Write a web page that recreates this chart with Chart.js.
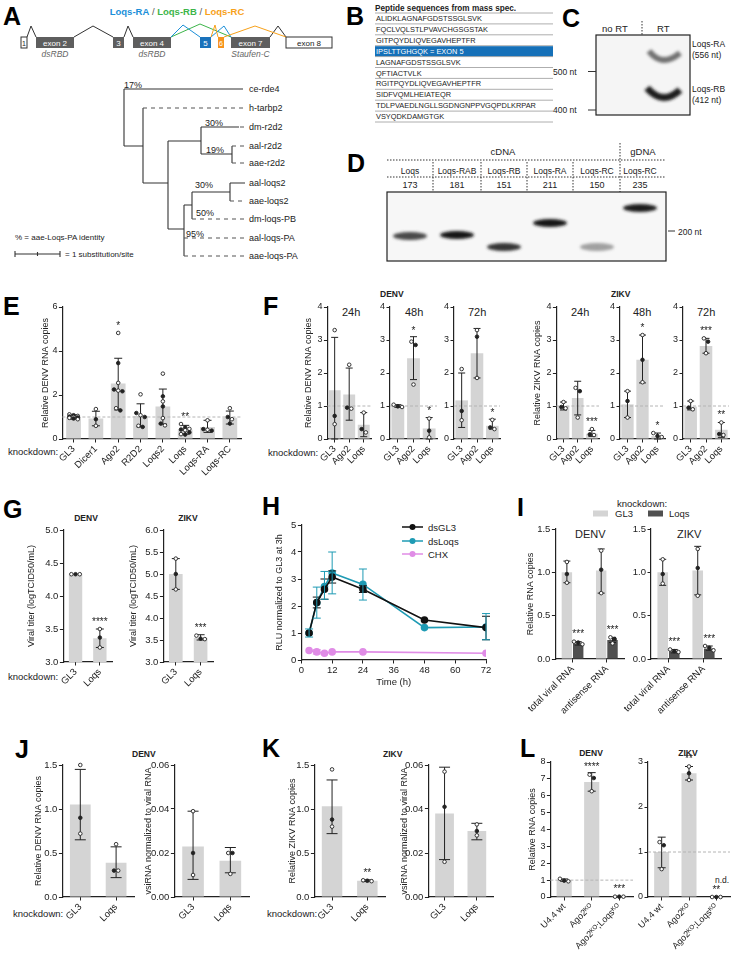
<!DOCTYPE html>
<html>
<head>
<meta charset="utf-8">
<title>Loqs figure</title>
<script src="https://cdn.jsdelivr.net/npm/chart.js@4.4.1/dist/chart.umd.min.js"></script>
<style>
html, body { margin: 0; padding: 0; background: #fff; }
#fig { position: relative; width: 732px; height: 960px; overflow: hidden; }
#fig canvas { position: absolute; }
#art { position: absolute; left: 0; top: 0; }
</style>
</head>
<body>
<div id="fig">
<svg id="art" width="732" height="960" font-family="'Liberation Sans', Arial, sans-serif" fill="#222">
<defs>
  <filter id="soft" x="-30%" y="-150%" width="160%" height="400%"><feGaussianBlur stdDeviation="1.4"/></filter>
</defs>
<g font-size="25" font-weight="bold" fill="#000">
  <text x="3" y="25">A</text>
  <text x="346" y="25">B</text>
  <text x="562" y="27">C</text>
  <text x="347" y="172">D</text>
  <text x="3" y="315">E</text>
  <text x="263" y="315">F</text>
  <text x="3" y="518">G</text>
  <text x="262" y="515">H</text>
  <text x="517" y="516">I</text>
  <text x="15" y="758">J</text>
  <text x="262" y="757">K</text>
  <text x="520" y="757">L</text>
</g>

<!-- A: gene model -->
<text x="177" y="15" text-anchor="middle" font-size="9.5" font-weight="bold"><tspan fill="#1b8fd9">Loqs-RA</tspan><tspan fill="#555" font-weight="normal"> / </tspan><tspan fill="#3db54a">Loqs-RB</tspan><tspan fill="#555" font-weight="normal"> / </tspan><tspan fill="#f7a11a">Loqs-RC</tspan></text>
<g fill="none" stroke-width="1">
  <polyline points="27,37 31,26 36,37" stroke="#333"/>
  <polyline points="74,37 93,26 113,37" stroke="#333"/>
  <polyline points="124,37 128,26 133,37" stroke="#333"/>
  <polyline points="270,37 278,26 286,37" stroke="#333"/>
  <polyline points="171,37 200,24 231,37" stroke="#3db54a"/>
  <polyline points="171,37 183,25 200,37" stroke="#1b8fd9"/>
  <polyline points="211,37 224,26 231,37" stroke="#1b8fd9"/>
  <polyline points="211,37 215,25 218,37" stroke="#f7a11a"/>
  <polyline points="224,37 255,26 286,37" stroke="#f7a11a"/>
</g>
<g font-size="8" text-anchor="middle">
  <rect x="21" y="37" width="6" height="11" fill="#fff" stroke="#333"/>
  <text x="24" y="45.5" font-size="7">1</text>
  <rect x="36" y="37" width="38" height="11" fill="#5e5e5e"/>
  <text x="55" y="45.5" fill="#fff">exon 2</text>
  <rect x="113" y="37" width="11" height="11" fill="#5e5e5e"/>
  <text x="118.5" y="45.5" fill="#fff">3</text>
  <rect x="133" y="37" width="38" height="11" fill="#5e5e5e"/>
  <text x="152" y="45.5" fill="#fff">exon 4</text>
  <rect x="200" y="37" width="11" height="11" fill="#1a72bb"/>
  <text x="205.5" y="45.5" fill="#fff">5</text>
  <rect x="218" y="37" width="6" height="11" fill="#f7941d"/>
  <text x="221" y="45.5" fill="#fff" font-size="7">6</text>
  <rect x="231" y="37" width="39" height="11" fill="#5e5e5e"/>
  <text x="250.5" y="45.5" fill="#fff">exon 7</text>
  <rect x="286" y="37" width="46" height="11" fill="#fff" stroke="#333"/>
  <text x="309" y="45.5">exon 8</text>
  <g font-style="italic" fill="#666" font-size="8.5">
    <text x="55" y="57">dsRBD</text>
    <text x="152" y="57">dsRBD</text>
    <text x="250.5" y="57">Staufen-C</text>
  </g>
</g>

<!-- A: tree -->
<g fill="none" stroke="#333" stroke-width="1.1">
  <path d="M124,89 H243 M124,89 V146 M124,146 H143 M143,108 V183 M143,183 H168 M168,141 V229 M168,141 H201 M201,127 V154 M201,127 H239 M201,154 H232 M232,146 V163 M168,229 H184 M184,205 V256 M184,205 H192 M192,192 V219 M192,192 H230 M230,183 V201 M230,183 H245"/>
  <path stroke="#555" stroke-dasharray="4,4" d="M143,108 H245 M240,127 H245 M232,146 H245 M232,163 H245 M230,201 H245 M192,219 H245 M184,238 H245 M184,256 H245"/>
  <path d="M15,254 H60 M15,251 V257 M37.5,252 V256 M60,251 V257"/>
</g>
<g font-size="9">
  <text x="249" y="92">ce-rde4</text>
  <text x="249" y="111">h-tarbp2</text>
  <text x="249" y="130">dm-r2d2</text>
  <text x="249" y="149">aal-r2d2</text>
  <text x="249" y="166">aae-r2d2</text>
  <text x="249" y="186">aal-loqs2</text>
  <text x="249" y="204">aae-loqs2</text>
  <text x="249" y="222">dm-loqs-PB</text>
  <text x="249" y="241">aal-loqs-PA</text>
  <text x="249" y="259">aae-loqs-PA</text>
  <text x="124" y="87.5">17%</text>
  <text x="205" y="125.5">30%</text>
  <text x="206" y="153">19%</text>
  <text x="195" y="187.5">30%</text>
  <text x="196" y="216">50%</text>
  <text x="186" y="237">95%</text>
  <text x="15" y="240" font-size="8">% = aae-Loqs-PA identity</text>
  <text x="65" y="257" font-size="8">= 1 substitution/site</text>
</g>

<!-- C: gel -->
<g font-size="9.5">
  <text x="602" y="32">no RT</text>
  <text x="657" y="32">RT</text>
  <line x1="642" y1="21" x2="642" y2="35" stroke="#333" stroke-dasharray="1.5,1.5"/>
  <rect x="596" y="35" width="94" height="80" fill="#f5f5f5" stroke="#222" stroke-width="1.2"/>
  <path d="M649,51 Q662,68 680,53" stroke="#5a5a5a" stroke-width="6" fill="none" filter="url(#soft)" opacity="0.85"/>
  <path d="M647,88 Q663,106 680,90" stroke="#1c1c1c" stroke-width="7" fill="none" filter="url(#soft)"/>
  <text x="553" y="75" font-size="8.5">500 nt</text>
  <line x1="588" y1="71.5" x2="596" y2="71.5" stroke="#333"/>
  <text x="553" y="113" font-size="8.5">400 nt</text>
  <line x1="588" y1="110" x2="596" y2="110" stroke="#333"/>
  <g font-size="8.5">
    <text x="692" y="47">Loqs-RA</text>
    <text x="692" y="58">(556 nt)</text>
    <text x="692" y="92">Loqs-RB</text>
    <text x="692" y="103">(412 nt)</text>
  </g>
</g>

<!-- D: gel frame -->
<g font-size="9.5" text-anchor="middle">
  <text x="503" y="155">cDNA</text>
  <text x="643" y="155">gDNA</text>
  <g stroke="#333" stroke-dasharray="1.5,1.5">
    <line x1="387" y1="160" x2="665" y2="160"/>
    <line x1="387" y1="177" x2="665" y2="177"/>
    <line x1="620" y1="143" x2="620" y2="192"/>
    <line x1="433" y1="162" x2="433" y2="192"/>
    <line x1="481" y1="162" x2="481" y2="192"/>
    <line x1="527" y1="162" x2="527" y2="192"/>
    <line x1="573" y1="162" x2="573" y2="192"/>
  </g>
  <rect x="387" y="192" width="279" height="69" fill="#f7f7f7" stroke="#222" stroke-width="1.2"/>
  <line x1="668" y1="231" x2="675" y2="231" stroke="#333"/>
  <text x="678" y="234.5" text-anchor="start" font-size="8.5">200 nt</text>
</g>

<!-- text labels around charts -->
<g font-size="9.5">
  <text x="8" y="455">knockdown:</text>
  <text x="268" y="456">knockdown:</text>
  <text x="8" y="680">knockdown:</text>
  <text x="13" y="917">knockdown:</text>
  <text x="267" y="917">knockdown:</text>
</g>
<g font-size="8.5" font-weight="bold">
  <text x="380" y="297">DENV</text>
  <text x="611" y="297">ZIKV</text>
  <text x="86" y="521" text-anchor="middle">DENV</text>
  <text x="188" y="521" text-anchor="middle">ZIKV</text>
  <text x="132" y="757">DENV</text>
  <text x="383" y="757">ZIKV</text>
  <text x="591" y="756" text-anchor="middle">DENV</text>
  <text x="688" y="756" text-anchor="middle">ZIKV</text>
</g>
<g font-size="11">
  <text x="342" y="316">24h</text>
  <text x="405" y="316">48h</text>
  <text x="468" y="316">72h</text>
  <text x="571" y="316">24h</text>
  <text x="633" y="316">48h</text>
  <text x="697" y="316">72h</text>
  <text x="575" y="538">DENV</text>
  <text x="677" y="538">ZIKV</text>
</g>
<!-- H legend -->
<g font-size="9.5">
  <line x1="402" y1="527" x2="423" y2="527" stroke="#111" stroke-width="1.5"/><circle cx="412.5" cy="527" r="3" fill="#111"/>
  <text x="428" y="530.5">dsGL3</text>
  <line x1="402" y1="541" x2="423" y2="541" stroke="#1f9bb4" stroke-width="1.5"/><circle cx="412.5" cy="541" r="3" fill="#1f9bb4"/>
  <text x="428" y="544.5">dsLoqs</text>
  <line x1="402" y1="554" x2="423" y2="554" stroke="#e08ce6" stroke-width="1.5"/><circle cx="412.5" cy="554" r="3" fill="#e08ce6"/>
  <text x="428" y="557.5">CHX</text>
</g>
<!-- I legend -->
<g font-size="9.5">
  <text x="617" y="507">knockdown:</text>
  <rect x="593" y="510.5" width="15" height="6" fill="#d4d4d4"/>
  <text x="615" y="517">GL3</text>
  <rect x="648" y="510.5" width="15" height="6" fill="#505050"/>
  <text x="669" y="517">Loqs</text>
</g>
<text x="715" y="883" font-size="8.5">n.d.</text>
</svg>
</div>

<script>
// ---------------- B: peptides ----------------
const peptides = [
  'ALIDKLAGNAFGDSTSSGLSVK',
  'FQCLVQLSTLPVAVCHGSGSTAK',
  'GITPQYDLIQVEGAVHEPTFR',
  'IPSLTTGHGQK = EXON 5',
  'LAGNAFGDSTSSGLSVK',
  'QFTIACTVLK',
  'RGITPQYDLIQVEGAVHEPTFR',
  'SIDFVQMLHEIATEQR',
  'TDLPVAEDLNGLLSGDNGNPPVGQPDLKRPAR',
  'VSYQDKDAMGTGK'
];
const exonRow = 3;

// ---------------- D: RT-PCR lanes ----------------
const lanes = ['Loqs', 'Loqs-RAB', 'Loqs-RB', 'Loqs-RA', 'Loqs-RC', 'Loqs-RC'];
const laneNt = [173, 181, 151, 211, 150, 235];
const laneSignal = [0.75, 1, 0.85, 1, 0.35, 0.95];

// ---------------- E ----------------
const eCats = ['GL3', 'Dicer1', 'Ago2', 'R2D2', 'Loqs2', 'Loqs', 'Loqs-RA', 'Loqs-RC'];
const eMean = [1.0, 0.93, 2.52, 1.05, 1.48, 0.42, 0.55, 0.97];
const eLo = [0.9, 0.6, 1.32, 0.55, 0.68, 0.22, 0.3, 0.68];
const eHi = [1.1, 1.26, 3.67, 1.6, 2.27, 0.62, 0.85, 1.27];
const ePts = [
  [1.12, 1.08, 1.05, 1.02, 1.0, 0.98, 0.96, 0.93, 0.9],
  [1.36, 0.9, 0.6],
  [4.82, 3.45, 2.55, 2.25, 2.2, 2.17, 1.4, 1.3],
  [2.03, 1.18, 1.08, 1.0, 0.6, 0.55],
  [2.97, 1.94, 1.71, 1.48, 0.95, 0.7, 0.62],
  [0.68, 0.52, 0.46, 0.43, 0.4, 0.3, 0.22, 0.2],
  [0.85, 0.45, 0.42, 0.38],
  [1.4, 1.0, 0.9, 0.7]
];
const eSig = ['', '', '*', '', '', '**', '', ''];

// ---------------- F ----------------
const fCats = ['GL3', 'Ago2', 'Loqs'];
const fDenv24 = [1.48, 1.35, 0.43], fDenv24Lo = [0, 0.57, 0.07], fDenv24Hi = [3.08, 2.15, 0.8];
const fDenv24Pts = [[3.3, 0.7, 0.45], [2.25, 0.95, 0.92], [0.8, 0.3, 0.2]];
const fDenv24Sig = ['', '', ''];
const fDenv48 = [1.0, 2.45, 0.32], fDenv48Lo = [0.96, 1.8, 0.0], fDenv48Hi = [1.04, 3.1, 0.65];
const fDenv48Pts = [[1.04, 0.99, 0.97], [2.95, 2.85, 1.65], [0.62, 0.25, 0.05]];
const fDenv48Sig = ['', '*', '*'];
const fDenv72 = [1.17, 2.6, 0.4], fDenv72Lo = [0.35, 1.85, 0.3], fDenv72Hi = [2.0, 3.35, 0.6];
const fDenv72Pts = [[2.12, 0.85, 0.57], [3.3, 3.1, 1.85], [0.58, 0.35, 0.3]];
const fDenv72Sig = ['', '', '*'];
const fZikv24 = [1.0, 1.24, 0.16], fZikv24Lo = [0.88, 0.73, 0.08], fZikv24Hi = [1.12, 1.75, 0.26];
const fZikv24Pts = [[1.12, 0.97, 0.93], [1.55, 1.45, 0.65], [0.3, 0.14, 0.12]];
const fZikv24Sig = ['', '', '***'];
const fZikv48 = [1.05, 2.4, 0.09], fZikv48Lo = [0.65, 1.7, 0.0], fZikv48Hi = [1.45, 3.15, 0.18];
const fZikv48Pts = [[1.45, 1.15, 0.65], [3.15, 2.4, 1.72], [0.18, 0.09, 0.06]];
const fZikv48Sig = ['', '*', '*'];
const fZikv72 = [0.98, 2.82, 0.28], fZikv72Lo = [0.88, 2.6, 0.05], fZikv72Hi = [1.15, 3.05, 0.5];
const fZikv72Pts = [[1.15, 0.95, 0.9], [3.05, 2.95, 2.6], [0.5, 0.15, 0.12]];
const fZikv72Sig = ['', '***', '**'];

// ---------------- G ----------------
const gCats = ['GL3', 'Loqs'];
const gDenv = [4.33, 3.36], gDenvLo = [4.33, 3.22], gDenvHi = [4.33, 3.5];
const gDenvPts = [[4.33, 4.33, 4.33], [3.5, 3.37, 3.22]];
const gDenvSig = ['', '****'];
const gZikv = [5.0, 3.55], gZikvLo = [4.65, 3.5], gZikvHi = [5.35, 3.62];
const gZikvPts = [[5.35, 5.0, 4.65], [3.6, 3.53, 3.52]];
const gZikvSig = ['', '***'];

// ---------------- H ----------------
const hTimes = [3, 6, 9, 12, 24, 48, 72];
const hGL3 = [1.0, 2.13, 2.62, 3.07, 2.62, 1.48, 1.2];
const hGL3Lo = [null, 1.93, 2.25, 2.85, 2.5, null, 0.75];
const hGL3Hi = [null, 2.33, 3.0, 3.3, 2.75, null, 1.62];
const hLoqs = [1.0, 2.12, 2.72, 3.22, 2.8, 1.2, 1.22];
const hLoqsLo = [0.85, 1.55, 2.25, 2.45, 2.22, null, 0.75];
const hLoqsHi = [1.15, 2.7, 3.28, 4.0, 3.37, null, 1.72];
const hCHX = [0.35, 0.3, 0.25, 0.3, 0.3, null, 0.25];
const hCHXLo = [null, 0.22, null, null, null, null, null];
const hCHXHi = [null, 0.38, null, null, null, null, null];

// ---------------- I ----------------
const iCats = ['total viral RNA', 'antisense RNA'];
const iDenvGL3 = [1.0, 1.02], iDenvGL3Lo = [0.88, 0.76], iDenvGL3Hi = [1.13, 1.27];
const iDenvGL3Pts = [[1.12, 0.98, 0.88], [1.25, 1.03, 0.76]];
const iDenvLoqs = [0.18, 0.22], iDenvLoqsLo = [0.16, 0.19], iDenvLoqsHi = [0.2, 0.25];
const iDenvLoqsPts = [[0.2, 0.19, 0.17], [0.25, 0.23, 0.18]];
const iZikvGL3 = [1.0, 1.02], iZikvGL3Lo = [0.85, 0.74], iZikvGL3Hi = [1.15, 1.3];
const iZikvGL3Pts = [[1.15, 0.98, 0.87], [1.27, 1.05, 0.73]];
const iZikvLoqs = [0.09, 0.12], iZikvLoqsLo = [0.07, 0.1], iZikvLoqsHi = [0.11, 0.15];
const iZikvLoqsPts = [[0.11, 0.09, 0.08], [0.15, 0.13, 0.1]];
const iSig = ['***', '***'];

// ---------------- J / K ----------------
const jkCats = ['GL3', 'Loqs'];
const jDenv = [1.05, 0.39], jDenvLo = [0.65, 0.22], jDenvHi = [1.45, 0.57];
const jDenvPts = [[1.5, 0.9, 0.72], [0.6, 0.3, 0.3]];
const jVsi = [0.023, 0.0165], jVsiLo = [0.008, 0.011], jVsiHi = [0.039, 0.0225];
const jVsiPts = [[0.039, 0.02, 0.01], [0.02, 0.02, 0.0105]];
const kZikv = [1.03, 0.185], kZikvLo = [0.72, 0.175], kZikvHi = [1.33, 0.195];
const kZikvPts = [[1.45, 0.88, 0.8], [0.19, 0.185, 0.18]];
const kZikvSig = ['', '**'];
const kVsi = [0.038, 0.03], kVsiLo = [0.017, 0.026], kVsiHi = [0.059, 0.0335];
const kVsiPts = [[0.057, 0.041, 0.016], [0.033, 0.03, 0.028]];

// ---------------- L ----------------
const lCats = ['U4.4 wt', 'Ago2ᴷᴼ', 'Ago2ᴷᴼ;Loqsᴷᴼ'];
const lDenv = [1.0, 6.82, 0.02], lDenvLo = [0.93, 6.27, null], lDenvHi = [1.07, 7.37, null];
const lDenvPts = [[1.08, 0.97, 0.93], [7.25, 7.05, 6.27], [0.02, 0.02, 0.02]];
const lDenvSig = ['', '****', '***'];
const lZikv = [1.0, 2.75, 0], lZikvLo = [0.65, 2.6, null], lZikvHi = [1.33, 2.9, null];
const lZikvPts = [[1.22, 1.15, 0.62], [2.9, 2.75, 2.6], [0, 0, 0]];
const lZikvSig = ['', '**', '**'];

// ================= schematic parts (B, D) =================
const art = document.getElementById('art');
const tb = [];
tb.push('<text x="375" y="10.5" font-size="8.2" font-weight="bold">Peptide sequences from mass spec.</text>');
tb.push('<line x1="375" y1="13" x2="553" y2="13" stroke="#999" stroke-width="0.8"/>');
peptides.forEach((p, i) => {
  const y0 = 13 + i * 10.9;
  if (i === exonRow) tb.push(`<rect x="375" y="${y0 + 0.5}" width="178" height="10.2" fill="#1570b8"/>`);
  tb.push(`<text x="376" y="${y0 + 8}" font-size="7.4" fill="${i === exonRow ? '#fff' : '#222'}">${p}</text>`);
  tb.push(`<line x1="375" y1="${y0 + 10.9}" x2="553" y2="${y0 + 10.9}" stroke="#999" stroke-width="0.8"/>`);
});
// lane geometry for the gel picture
const laneX = [410, 457, 504, 550, 597, 640];
const bandY = [236, 235, 247, 223, 247, 208];
lanes.forEach((n, i) => {
  tb.push(`<text x="${laneX[i]}" y="174" font-size="8.5" text-anchor="middle">${n}</text>`);
  tb.push(`<text x="${laneX[i]}" y="188" font-size="9" text-anchor="middle">${laneNt[i]}</text>`);
  const g = Math.round(235 - 215 * laneSignal[i]);
  tb.push(`<ellipse cx="${laneX[i]}" cy="${bandY[i]}" rx="17" ry="4" fill="rgb(${g},${g},${g})" filter="url(#soft)"/>`);
});
art.insertAdjacentHTML('beforeend', tb.join(''));

// ================= charts =================
Chart.defaults.font.family = '"Liberation Sans", Arial, sans-serif';
Chart.defaults.color = '#222';
Chart.defaults.animation = false;
const fig = document.getElementById('fig');

function swarm(pys, d) {
  const idx = pys.map((v, k) => k).sort((a, b) => pys[a] - pys[b]);
  const off = new Array(pys.length).fill(0);
  let group = [idx[0]];
  const flush = () => {
    if (group.length === 2) { off[group[0]] = -d / 2; off[group[1]] = d / 2; }
    else if (group.length > 2) group.forEach((k, j) => { off[k] = [-d, 0, d][j % 3]; });
  };
  for (let j = 1; j < idx.length; j++) {
    if (pys[idx[j]] - pys[group[group.length - 1]] < d) group.push(idx[j]);
    else { flush(); group = [idx[j]]; }
  }
  flush();
  return off;
}

// error bars, replicate points, reference line and stars
const marks = {
  id: 'marks',
  afterDatasetsDraw(chart, args, opts) {
    const ctx = chart.ctx, ys = chart.scales.y, area = chart.chartArea;
    const cap = opts.cap || 4, r = 1.8;
    ctx.save();
    if (opts.ref != null) {
      const y = ys.getPixelForValue(opts.ref);
      ctx.strokeStyle = '#b4b4b4'; ctx.lineWidth = 1; ctx.setLineDash([3, 2]);
      ctx.beginPath(); ctx.moveTo(area.left, y); ctx.lineTo(area.right, y); ctx.stroke();
      ctx.setLineDash([]);
    }
    chart.data.datasets.forEach((ds, di) => {
      const meta = chart.getDatasetMeta(di);
      meta.data.forEach((el, i) => {
        if (el.skip) return;
        const x = el.x;
        let top = el.y;
        if (ds.errLo && ds.errLo[i] != null && ds.errHi[i] - ds.errLo[i] > 1e-6) {
          const y1 = ys.getPixelForValue(ds.errLo[i]), y2 = ys.getPixelForValue(ds.errHi[i]);
          ctx.strokeStyle = ds.errColor || '#222'; ctx.lineWidth = 1;
          ctx.beginPath();
          ctx.moveTo(x, y1); ctx.lineTo(x, y2);
          ctx.moveTo(x - cap, y1); ctx.lineTo(x + cap, y1);
          ctx.moveTo(x - cap, y2); ctx.lineTo(x + cap, y2);
          ctx.stroke();
          top = Math.min(top, y2);
        }
        if (ds.pts && ds.pts[i]) {
          const pys = ds.pts[i].map(v => ys.getPixelForValue(v));
          const off = swarm(pys, 2 * r + 0.6);
          pys.forEach((py, k) => {
            ctx.beginPath(); ctx.arc(x + off[k], py, r, 0, 2 * Math.PI);
            ctx.fillStyle = k % 2 ? '#222' : '#fff'; ctx.fill();
            ctx.lineWidth = 0.9; ctx.strokeStyle = '#222'; ctx.stroke();
            top = Math.min(top, py - r);
          });
        }
        if (ds.sig && ds.sig[i]) {
          ctx.fillStyle = '#222'; ctx.font = '10px "Liberation Sans", Arial, sans-serif';
          ctx.textAlign = 'center'; ctx.textBaseline = 'alphabetic';
          ctx.fillText(ds.sig[i], x, top - 2.5);
        }
      });
    });
    ctx.restore();
  }
};

function place(w, h, left, top) {
  const c = document.createElement('canvas');
  c.width = Math.ceil(w); c.height = Math.ceil(h);
  c.style.left = left + 'px'; c.style.top = top + 'px';
  c.style.width = Math.ceil(w) + 'px'; c.style.height = Math.ceil(h) + 'px';
  fig.appendChild(c);
  return c;
}

const padL = 45, padT = 12, padR = 6, tfs = 9;

function yAxis(o, yW) {
  return {
    min: o.min, max: o.max,
    afterFit: s => { s.width = yW; },
    border: { color: '#222', width: 1.2 },
    grid: { drawOnChartArea: false, color: '#222', tickLength: 3.5, lineWidth: 1 },
    ticks: { stepSize: o.step, padding: 1.5, font: { size: o.yfs || 9.5 }, color: '#222',
      callback: v => Number(v).toFixed(o.dec || 0) },
    title: { display: !!o.yTitle, text: o.yTitle || '', padding: 0, font: { size: tfs }, color: '#222' }
  };
}

function barChart(o) {
  const yW = o.yTitle ? o.L - (o.titleX - 0.6 * tfs) : (o.yW || 18);
  const pw = o.R - o.L, ph = o.B - o.T;
  const c = place(padL + yW + pw + padR, padT + ph + o.xH, o.L - yW - padL, o.T - padT);
  new Chart(c, {
    type: 'bar',
    data: {
      labels: o.cats,
      datasets: o.sets.map(s => ({
        data: s.mean, errLo: s.lo, errHi: s.hi, pts: s.pts, sig: s.sig,
        backgroundColor: s.color || '#d4d4d4', borderWidth: 0,
        barPercentage: o.bp || 0.6, categoryPercentage: o.cp || 1
      }))
    },
    options: {
      responsive: false, animation: false, devicePixelRatio: 1,
      layout: { padding: { left: padL, top: padT, right: padR, bottom: 0 } },
      plugins: { legend: { display: false }, tooltip: { enabled: false }, marks: { ref: o.ref, cap: o.cap || 4 } },
      scales: {
        x: {
          offset: true,
          afterFit: s => { s.height = o.xH; },
          border: { color: '#222', width: 1.2 },
          grid: { drawOnChartArea: false, offset: false, color: '#222', tickLength: 3.5 },
          ticks: { minRotation: 45, maxRotation: 45, autoSkip: false, padding: 1, font: { size: o.xfs || 9.5 }, color: '#222' }
        },
        y: yAxis(o, yW)
      }
    },
    plugins: [marks]
  });
}

// E
barChart({ L: 62, T: 307, R: 240, B: 439, cats: eCats, min: 0, max: 6, step: 2, yfs: 9,
  sets: [{ mean: eMean, lo: eLo, hi: eHi, pts: ePts, sig: eSig }],
  yTitle: 'Relative DENV RNA copies', titleX: 45, ref: 1, xH: 60, bp: 0.66 });

// F
const fBase = { T: 307, B: 439, cats: fCats, min: 0, max: 4, step: 1, yfs: 9, ref: 1, xH: 40, bp: 0.82, cap: 3.5 };
barChart(Object.assign({}, fBase, { L: 327, R: 370, yTitle: 'Relative DENV RNA copies', titleX: 308,
  sets: [{ mean: fDenv24, lo: fDenv24Lo, hi: fDenv24Hi, pts: fDenv24Pts, sig: fDenv24Sig }] }));
barChart(Object.assign({}, fBase, { L: 390, R: 437, yW: 14,
  sets: [{ mean: fDenv48, lo: fDenv48Lo, hi: fDenv48Hi, pts: fDenv48Pts, sig: fDenv48Sig }] }));
barChart(Object.assign({}, fBase, { L: 454, R: 500, yW: 14,
  sets: [{ mean: fDenv72, lo: fDenv72Lo, hi: fDenv72Hi, pts: fDenv72Pts, sig: fDenv72Sig }] }));
barChart(Object.assign({}, fBase, { L: 556, R: 598, yTitle: 'Relative ZIKV RNA copies', titleX: 537,
  sets: [{ mean: fZikv24, lo: fZikv24Lo, hi: fZikv24Hi, pts: fZikv24Pts, sig: fZikv24Sig }] }));
barChart(Object.assign({}, fBase, { L: 620, R: 665, yW: 14,
  sets: [{ mean: fZikv48, lo: fZikv48Lo, hi: fZikv48Hi, pts: fZikv48Pts, sig: fZikv48Sig }] }));
barChart(Object.assign({}, fBase, { L: 683, R: 729, yW: 14,
  sets: [{ mean: fZikv72, lo: fZikv72Lo, hi: fZikv72Hi, pts: fZikv72Pts, sig: fZikv72Sig }] }));

// G
barChart({ L: 63, T: 530, R: 111, B: 662, cats: gCats, min: 3, max: 5, step: 0.5, dec: 1, xH: 30, bp: 0.55,
  yTitle: 'Viral titer (logTCID50/mL)', titleX: 31,
  sets: [{ mean: gDenv, lo: gDenvLo, hi: gDenvHi, pts: gDenvPts, sig: gDenvSig }] });
barChart({ L: 163, T: 530, R: 212, B: 662, cats: gCats, min: 3, max: 6, step: 0.5, dec: 1, xH: 30, bp: 0.55,
  yTitle: 'Viral titer (logTCID50/mL)', titleX: 133,
  sets: [{ mean: gZikv, lo: gZikvLo, hi: gZikvHi, pts: gZikvPts, sig: gZikvSig }] });

// H
(function () {
  const L = 301, R = 485, T = 525, B = 660, xH = 28;
  const yW = L - (279 - 0.6 * tfs);
  const c = place(padL + yW + (R - L) + 12, padT + (B - T) + xH, L - yW - padL, T - padT);
  const series = (vals, lo, hi, col) => ({
    data: hTimes.map((t, i) => ({ x: t, y: vals[i] })), errLo: lo, errHi: hi, errColor: col,
    borderColor: col, backgroundColor: col, pointBackgroundColor: col, pointBorderColor: col,
    borderWidth: 1.6, pointRadius: 3, spanGaps: true, tension: 0
  });
  new Chart(c, {
    type: 'line',
    data: { datasets: [
      series(hCHX, hCHXLo, hCHXHi, '#e08ce6'),
      series(hGL3, hGL3Lo, hGL3Hi, '#111111'),
      series(hLoqs, hLoqsLo, hLoqsHi, '#1f9bb4')
    ] },
    options: {
      responsive: false, animation: false, devicePixelRatio: 1,
      layout: { padding: { left: padL, top: padT, right: 12, bottom: 0 } },
      plugins: { legend: { display: false }, tooltip: { enabled: false }, marks: { cap: 4 } },
      scales: {
        x: {
          type: 'linear', min: 0, max: 72,
          afterFit: s => { s.height = xH; },
          border: { color: '#222', width: 1.2 },
          grid: { drawOnChartArea: false, color: '#222', tickLength: 3.5 },
          ticks: { stepSize: 12, maxRotation: 0, padding: 1, font: { size: 9.5 }, color: '#222' },
          title: { display: true, text: 'Time (h)', padding: 0, font: { size: 9.5 }, color: '#222' }
        },
        y: yAxis({ min: 0, max: 5, step: 1, yTitle: 'RLU normalized to GL3 at 3h' }, yW)
      }
    },
    plugins: [marks]
  });
})();

// I
const iBase = { T: 529, B: 659, cats: iCats, min: 0, max: 1.5, step: 0.5, dec: 1, xH: 72, cp: 0.66, bp: 0.92, cap: 3.5 };
barChart(Object.assign({}, iBase, { L: 555, R: 623, yTitle: 'Relative RNA copies', titleX: 530,
  sets: [
    { mean: iDenvGL3, lo: iDenvGL3Lo, hi: iDenvGL3Hi, pts: iDenvGL3Pts },
    { mean: iDenvLoqs, lo: iDenvLoqsLo, hi: iDenvLoqsHi, pts: iDenvLoqsPts, sig: iSig, color: '#505050' }
  ] }));
barChart(Object.assign({}, iBase, { L: 651, R: 721, yW: 22,
  sets: [
    { mean: iZikvGL3, lo: iZikvGL3Lo, hi: iZikvGL3Hi, pts: iZikvGL3Pts },
    { mean: iZikvLoqs, lo: iZikvLoqsLo, hi: iZikvLoqsHi, pts: iZikvLoqsPts, sig: iSig, color: '#505050' }
  ] }));

// J, K
const jkBase = { T: 765, B: 897, cats: jkCats, xH: 30, bp: 0.58, cap: 5.5 };
barChart(Object.assign({}, jkBase, { L: 62, R: 133, min: 0, max: 1.5, step: 0.5, dec: 1,
  yTitle: 'Relative DENV RNA copies', titleX: 38,
  sets: [{ mean: jDenv, lo: jDenvLo, hi: jDenvHi, pts: jDenvPts }] }));
barChart(Object.assign({}, jkBase, { L: 174, R: 248, min: 0, max: 0.06, step: 0.02, dec: 2,
  yTitle: 'vsiRNA normalized to viral RNA', titleX: 148,
  sets: [{ mean: jVsi, lo: jVsiLo, hi: jVsiHi, pts: jVsiPts }] }));
barChart(Object.assign({}, jkBase, { L: 314, R: 384, min: 0, max: 1.5, step: 0.5, dec: 1,
  yTitle: 'Relative ZIKV RNA copies', titleX: 292,
  sets: [{ mean: kZikv, lo: kZikvLo, hi: kZikvHi, pts: kZikvPts, sig: kZikvSig }] }));
barChart(Object.assign({}, jkBase, { L: 428, R: 492, min: 0, max: 0.06, step: 0.02, dec: 2,
  yTitle: 'vsiRNA normalized to viral RNA', titleX: 404,
  sets: [{ mean: kVsi, lo: kVsiLo, hi: kVsiHi, pts: kVsiPts }] }));

// L
barChart({ L: 550, T: 762, R: 632, B: 897, cats: lCats, min: 0, max: 8, step: 1, yfs: 9, xfs: 9, xH: 62, bp: 0.55, ref: 1,
  yTitle: 'Relative RNA copies', titleX: 532,
  sets: [{ mean: lDenv, lo: lDenvLo, hi: lDenvHi, pts: lDenvPts, sig: lDenvSig }] });
barChart({ L: 648, T: 762, R: 730, B: 897, cats: lCats, min: 0, max: 3, step: 1, yfs: 9, xfs: 9, xH: 62, bp: 0.55, ref: 1, yW: 14,
  sets: [{ mean: lZikv, lo: lZikvLo, hi: lZikvHi, pts: lZikvPts, sig: lZikvSig }] });
</script>
</body>
</html>
